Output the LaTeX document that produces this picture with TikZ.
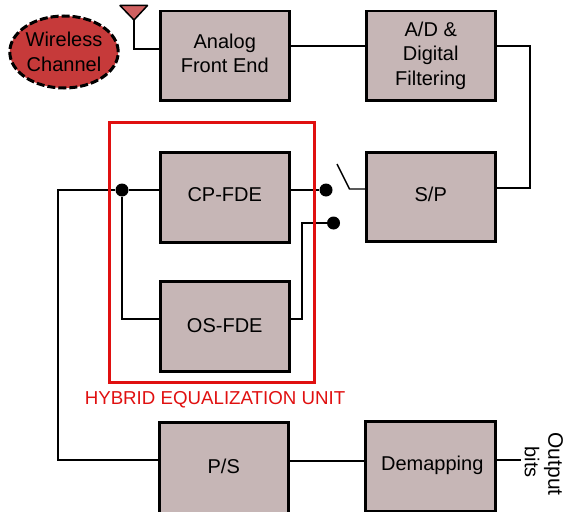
\documentclass[tikz,border=0pt]{standalone}
\usepackage{fontspec}
\setmainfont{Liberation Sans}
\usetikzlibrary{shapes.geometric}
\definecolor{boxfill}{HTML}{C6B6B6}
\definecolor{chan}{HTML}{C63A3A}
\definecolor{ant}{HTML}{D06060}
\definecolor{redb}{HTML}{E01010}
\tikzset{x=1pt,y=-1pt,
 blk/.style={draw=black,fill=boxfill,line width=2.5pt,anchor=north west,inner sep=0pt,align=center,font=\fontsize{20}{24.5}\selectfont},
 wire/.style={draw=black,line width=1.4pt},
 dot/.style={circle,fill=black,inner sep=0pt,minimum size=13pt}}
\begin{document}
\begin{tikzpicture}
\useasboundingbox (0,0) rectangle (564,511);
\clip (0,0) rectangle (564,511);
% boxes
\node[blk,minimum width=129pt,minimum height=89pt] (afe) at (159,10) {\raisebox{5pt}{\begin{tabular}{@{}c@{}}Analog\\Front End\end{tabular}}};
\node[blk,minimum width=129pt,minimum height=89pt] (ad) at (365,10) {A/D \&\\Digital\\Filtering};
\node[blk,minimum width=129pt,minimum height=89pt] (sp) at (365,151) {\raisebox{5pt}{S/P}};
\node[blk,minimum width=129pt,minimum height=90pt] (cp) at (159,151) {\raisebox{5pt}{CP-FDE}};
\node[blk,minimum width=129pt,minimum height=90pt] (os) at (159,280) {\raisebox{1pt}{OS-FDE}};
\node[blk,minimum width=129pt,minimum height=95pt] (ps) at (158,421) {\raisebox{8pt}{P/S}};
\node[blk,minimum width=130pt,minimum height=90pt] (dm) at (364,420) {\hspace*{4pt}\raisebox{7pt}{Demapping}};
% channel
\node[ellipse,draw=black,fill=chan,line width=3pt,dash pattern=on 8pt off 3pt,minimum width=105pt,minimum height=72pt,inner sep=0pt,align=center,font=\fontsize{20}{25}\selectfont] (wc) at (64,52) {Wireless\\Channel};
% antenna
\coordinate (anttip) at (134,20);
\coordinate (antl) at (120,5.5);
\coordinate (antr) at (147.5,5.5);
\draw[black,line width=1.5pt,fill=ant,line join=round] (antl) -- (antr) -- (anttip) -- cycle;
\draw[wire] (anttip) |- (afe.west |- 0,49);
% wires
\draw[wire] (afe.east |- 0,46) -- (ad.west |- 0,46);
\coordinate (adout) at (ad.east |- 0,46);
\coordinate (spout) at (sp.east |- 0,188);
\draw[wire] (adout) -- (530,46) -- (530,188) -- (spout);
% switch
\node[dot] (d1) at (326,190) {};
\node[dot] (d2) at (333.5,223) {};
\coordinate (swtip) at (337,164);
\coordinate (swk) at (349.5,189);
\draw[wire] (swtip) -- (swk) -- (sp.west |- swk);
\draw[wire] (cp.east |- d1) -- (d1);
\draw[wire] (os.east |- 0,319) -- (302,319) -- (302,223) -- (d2);
% left
\node[dot] (j) at (122,190) {};
\draw[wire] (j) -- (cp.west |- j);
\draw[wire] (j) |- (os.west |- 0,319);
\draw[wire] (j) -- (58,190) -- (58,460) -- (ps.west |- 0,460);
\draw[wire] (ps.east |- 0,461) -- (dm.west |- 0,461);
\coordinate (outb) at (521,460);
\draw[wire] (dm.east |- outb) -- (outb);
% unit frame
\node[draw=redb,line width=2.5pt,minimum width=205pt,minimum height=260pt,inner sep=0pt,anchor=north west] (hu) at (108,121) {};
\node[text=redb,font=\fontsize{18.7}{22}\selectfont,anchor=center] (hl) at (215,400) {HYBRID EQUALIZATION UNIT};
% output labels
\node[rotate=-90,inner sep=0pt,font=\fontsize{21}{21}\selectfont] (o1) at (553.5,464) {Output};
\node[rotate=-90,inner sep=0pt,font=\fontsize{20}{20}\selectfont] (o2) at (532,462) {bits};
\end{tikzpicture}
\end{document}
